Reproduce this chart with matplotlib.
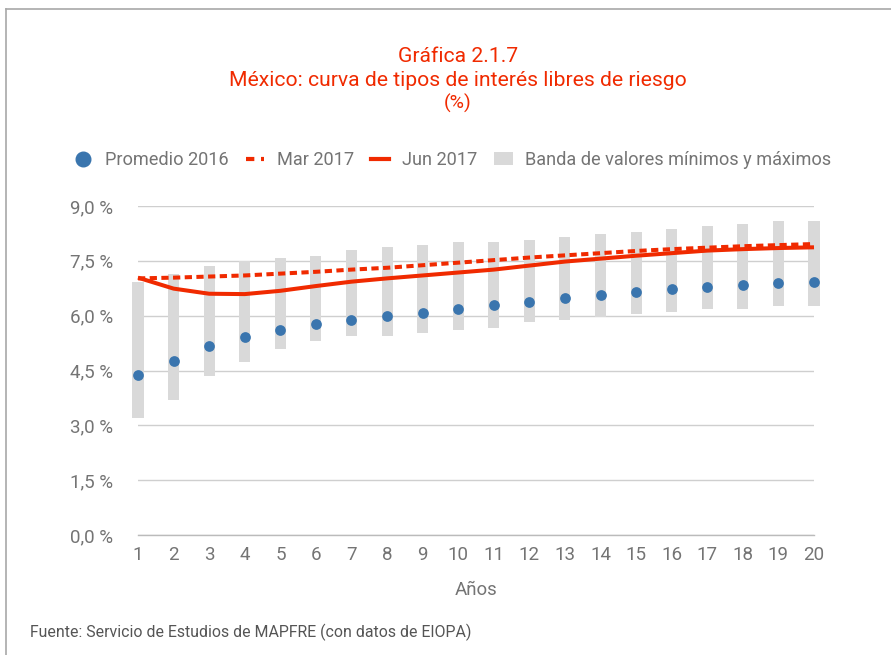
import matplotlib
matplotlib.use("Agg")
import matplotlib.pyplot as plt
from matplotlib.lines import Line2D
from matplotlib.patches import Patch
import numpy as np

plt.rcParams['font.family'] = ['Roboto', 'DejaVu Sans']

years = list(range(1, 21))
promedio_2016 = [4.38, 4.76, 5.17, 5.41, 5.61, 5.78, 5.89, 6.00, 6.08, 6.18,
                 6.28, 6.38, 6.48, 6.57, 6.66, 6.73, 6.79, 6.85, 6.88, 6.92]
mar_2017 = [7.02, 7.04, 7.07, 7.10, 7.15, 7.20, 7.26, 7.31, 7.38, 7.45,
            7.52, 7.59, 7.65, 7.71, 7.77, 7.82, 7.86, 7.90, 7.93, 7.96]
jun_2017 = [7.04, 6.74, 6.60, 6.59, 6.68, 6.81, 6.93, 7.02, 7.10, 7.18,
            7.26, 7.37, 7.48, 7.56, 7.64, 7.71, 7.78, 7.82, 7.85, 7.87]
band_min = [3.20, 3.69, 4.35, 4.73, 5.09, 5.31, 5.44, 5.44, 5.53, 5.61,
            5.66, 5.83, 5.88, 5.96, 6.04, 6.10, 6.18, 6.18, 6.26, 6.26]
band_max = [6.92, 7.14, 7.36, 7.50, 7.58, 7.63, 7.80, 7.88, 7.93, 8.01,
            8.01, 8.07, 8.15, 8.23, 8.29, 8.37, 8.45, 8.51, 8.59, 8.59]
y_ticks = [0.0, 1.5, 3.0, 4.5, 6.0, 7.5, 9.0]
y_tick_labels = ["0,0 %", "1,5 %", "3,0 %", "4,5 %", "6,0 %", "7,5 %", "9,0 %"]

RED = "#F02A00"
BLUE = "#3A75AE"
BAND = "#D9D9D9"
GRID = "#CFCFCF"
TXT = "#747474"

fig = plt.figure(figsize=(8.91, 6.55), dpi=100)
ax = fig.add_axes([138/891, 1 - 535/655, (814 - 138)/891, (535 - 206)/655])

heights = np.array(band_max) - np.array(band_min)
ax.bar(years, heights, bottom=band_min, width=0.31, color=BAND, zorder=2, clip_on=False)
ax.plot(years, mar_2017, color=RED, lw=2.9, ls=(0, (1.8, 1.1)), zorder=3, clip_on=False)
ax.plot(years, jun_2017, color=RED, lw=2.9, zorder=3, clip_on=False,
        solid_capstyle='butt')
ax.scatter(years, promedio_2016, s=60, color=BLUE, zorder=4, clip_on=False,
           linewidths=0)

ax.set_xlim(1, 20)
ax.set_ylim(0, 9)
ax.set_yticks(y_ticks)
ax.set_yticklabels(y_tick_labels)
ax.set_xticks(years)
ax.grid(axis='y', color=GRID, lw=1.0, zorder=0)
ax.axhline(0, color="#BBBBBB", lw=1.0, zorder=1, clip_on=False)
ax.set_axisbelow(True)
for s in ax.spines.values():
    s.set_visible(False)
ax.tick_params(axis='both', length=0, labelsize=13.5, colors=TXT)
ax.tick_params(axis='y', pad=18)
ax.tick_params(axis='x', pad=8)
ax.set_xlabel("Años", fontsize=13.4, color=TXT, labelpad=12)

title_x = 458 / 891
fig.text(title_x, 1 - 56/655, "Gráfica 2.1.7", ha='center', va='center',
         fontsize=15.2, color=RED)
fig.text(title_x, 1 - 81/655, "México: curva de tipos de interés libres de riesgo",
         ha='center', va='center', fontsize=15.2, color=RED)
fig.text(title_x, 1 - 103/655, "(%)", ha='center', va='center', fontsize=14, color=RED)

handles = [
    Line2D([], [], marker='o', ls='none', color=BLUE, markersize=10.5),
    Line2D([], [], color=RED, lw=3, ls=(0, (2.0, 1.6))),
    Line2D([], [], color=RED, lw=3),
    Patch(facecolor=BAND, edgecolor='none'),
]
labels = ["Promedio 2016", "Mar 2017", "Jun 2017", "Banda de valores mínimos y máximos"]
leg = fig.legend(handles, labels, loc='center', bbox_to_anchor=(0.508, 1 - 160/655),
                 ncol=4, frameon=False, fontsize=13.1, handlelength=1.0,
                 columnspacing=0.95, handletextpad=0.7)
for t in leg.get_texts():
    t.set_color(TXT)

fig.text(30/891, 1 - 632/655, "Fuente: Servicio de Estudios de MAPFRE (con datos de EIOPA)",
         ha='left', va='center', fontsize=11.4, color="#555555")

# frame lines along the top and left edges
fig.add_artist(Line2D([6/891, 6/891], [0, 1 - 9/655], transform=fig.transFigure,
                      color="#A8A8A8", lw=1.2))
fig.add_artist(Line2D([6/891, 1], [1 - 9/655, 1 - 9/655], transform=fig.transFigure,
                      color="#A8A8A8", lw=1.2))

fig.savefig("out.png", dpi=100)
